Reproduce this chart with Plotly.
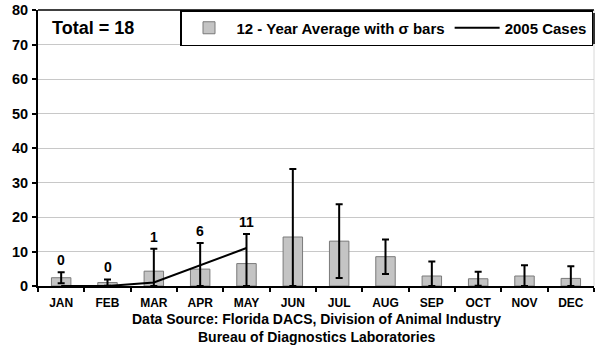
import plotly.graph_objects as go

months = ["JAN", "FEB", "MAR", "APR", "MAY", "JUN", "JUL", "AUG", "SEP", "OCT", "NOV", "DEC"]
avg_12yr = [2.4, 1.0, 4.3, 4.9, 6.5, 14.2, 13.0, 8.5, 2.9, 2.1, 2.9, 2.2]
sigma = [1.6, 0.9, 6.5, 7.6, 8.6, 19.7, 10.7, 5.0, 4.2, 2.0, 3.1, 3.5]
case_months = ["JAN", "FEB", "MAR", "APR", "MAY"]
cases_2005 = [0, 0, 1, 6, 11]
y_ticks = [0, 10, 20, 30, 40, 50, 60, 70, 80]

FONT = "Liberation Sans, Arial, sans-serif"
W, H = 595, 347
ML, MR, MT, MB = 38, 1, 10, 61
PW, PH = W - ML - MR, H - MT - MB
sig_minus = [min(s, a) for s, a in zip(sigma, avg_12yr)]


def px_x(x):
    return (x - ML) / PW


def px_y(y):
    return (H - MB - y) / PH


fig = go.Figure()
fig.add_trace(go.Bar(
    x=months, y=avg_12yr, name="<b>12 - Year Average with σ bars</b>",
    marker=dict(color="#c4c4c4", line=dict(color="#7a7a7a", width=1)),
    error_y=dict(type="data", array=sigma, arrayminus=sig_minus, symmetric=False,
                 color="black", thickness=2, width=3.5),
))
fig.add_trace(go.Scatter(
    x=case_months, y=cases_2005, name="<b>2005 Cases</b>", mode="lines",
    line=dict(color="black", width=2),
))

for m, c in zip(case_months, cases_2005):
    i = months.index(m)
    fig.add_annotation(x=m, y=avg_12yr[i] + sigma[i], text=f"<b>{c}</b>", showarrow=False,
                       yanchor="bottom", yshift=2, font=dict(family=FONT, size=14, color="black"))

total = sum(cases_2005)
fig.add_annotation(xref="paper", yref="paper", x=px_x(50), y=px_y(28), xanchor="left", yanchor="middle",
                   text=f"<b>Total = {total}</b>", showarrow=False,
                   font=dict(family=FONT, size=18, color="black"))
fig.add_annotation(xref="paper", yref="paper", x=0.5, y=0, yshift=-33, xanchor="center", yanchor="middle",
                   text="<b>Data Source: Florida DACS, Division of Animal Industry</b>", showarrow=False,
                   font=dict(family=FONT, size=14, color="black"))
fig.add_annotation(xref="paper", yref="paper", x=0.5, y=0, yshift=-51, xanchor="center", yanchor="middle",
                   text="<b>Bureau of Diagnostics Laboratories</b>", showarrow=False,
                   font=dict(family=FONT, size=14, color="black"))

# plot-area border: top dark, right light
fig.add_shape(type="line", xref="paper", yref="paper", x0=0, x1=1, y0=1, y1=1,
              line=dict(color="#404040", width=2), layer="above")
fig.add_shape(type="line", xref="paper", yref="paper", x0=1, x1=1, y0=0, y1=1,
              line=dict(color="#d8d8d8", width=1), layer="below")
# legend drop shadow
fig.add_shape(type="rect", xref="paper", yref="paper",
              x0=px_x(182), x1=px_x(595), y0=px_y(44), y1=px_y(13),
              fillcolor="#333333", line=dict(width=0), layer="above")

fig.update_layout(
    width=W, height=H,
    margin=dict(l=ML, r=MR, t=MT, b=MB),
    paper_bgcolor="white", plot_bgcolor="white",
    bargap=0.58,
    showlegend=True,
    legend=dict(orientation="h", x=px_x(593), xanchor="right", y=1, yanchor="top",
                bgcolor="white", bordercolor="black", borderwidth=1.5,
                font=dict(family=FONT, size=15, color="black"),
                itemwidth=45, traceorder="normal"),
    font=dict(family=FONT, color="black"),
)
fig.update_xaxes(
    type="category", categoryorder="array", categoryarray=months,
    showline=True, linecolor="black", linewidth=2,
    ticks="outside", tickson="boundaries", ticklen=4, tickwidth=1.5, tickcolor="black",
    tickfont=dict(family=FONT, size=12, color="black"),
    ticklabelstandoff=5,
    tickvals=months, ticktext=[f"<b>{m}</b>" for m in months],
    showgrid=False, range=[-0.5, 11.5],
)
fig.update_yaxes(
    range=[0, 80], tickvals=y_ticks, ticktext=[f"<b>{v}</b>" for v in y_ticks],
    showline=True, linecolor="black", linewidth=2,
    ticks="outside", ticklen=4, tickwidth=1.5, tickcolor="black",
    tickfont=dict(family=FONT, size=14.5, color="black"),
    ticklabelstandoff=1,
    showgrid=True, gridcolor="#c8c8c8", gridwidth=1, zeroline=False,
)

fig.write_html("out.html", config={"displayModeBar": False},
               post_script="document.body.style.margin='0';")
